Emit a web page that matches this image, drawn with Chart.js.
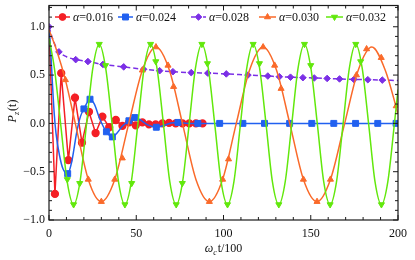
<!DOCTYPE html>
<html><head><meta charset="utf-8">
<script src="https://cdn.jsdelivr.net/npm/chart.js@4.4.1/dist/chart.umd.min.js"></script>
<style>html,body{margin:0;padding:0;background:#fff}#wrap{width:415px;height:260px}</style>
</head><body><div id="wrap"><canvas id="c" width="415" height="260"></canvas></div>
<script>
// ---- data ----
const alphaLabels = ['0.016', '0.024', '0.028', '0.030', '0.032'];
const xTickVals = [0, 50, 100, 150, 200];
const yTickVals = [-1.0, -0.5, 0.0, 0.5, 1.0];

// alpha = 0.016 (red, joined points)
const redT = [0, 3.4, 7.0, 11.1, 14.9, 18.9, 22.9, 26.7, 30.6, 34.5, 38.3, 42.1, 45.9, 49.7, 53.5, 57.3, 61.1, 65.0, 68.8, 72.6, 76.5, 80.4, 84.2, 88.0];
const redP = [1.0, -0.73, 0.52, -0.38, 0.265, -0.2, 0.12, -0.1, 0.07, -0.04, 0.035, -0.025, 0.01, -0.02, 0.01, -0.01, -0.01, 0.0, 0.005, 0.0, 0.0, 0.0, 0.0, 0.0];

// alpha = 0.024 (blue)
const blueT = [0, 1, 2, 3, 4, 6, 8, 10.7, 13, 16, 18, 20, 23.5, 26, 29, 32.9, 36.3, 39, 42, 45.8, 49.1, 52, 56, 61.5, 66, 70, 73.9, 80, 85.3, 97.8, 200];
const blueP = [1.0, 0.75, 0.4, 0.1, -0.1, -0.33, -0.47, -0.52, -0.4, -0.08, 0.07, 0.15, 0.25, 0.2, 0.05, -0.087, -0.14, -0.1, -0.03, 0.027, 0.06, 0.04, -0.01, -0.04, -0.02, 0.005, 0.01, 0.0, 0.0, 0.0, 0.0];
const blueMarkT = [10.7, 20, 23.5, 32.9, 36.3, 45.8, 49.1, 61.5, 73.9, 85.3, 97.8, 111.1, 123.5, 137.9, 150.6, 163.2, 175.7, 188.4, 198.9];
const blueMarkP = [-0.52, 0.15, 0.25, -0.087, -0.14, 0.027, 0.06, -0.04, 0.01, 0, 0, 0, 0, 0, 0, 0, 0, 0, 0];

// alpha = 0.028 (purple, dashed)
const purpleT = [0, 2, 4, 5.7, 10, 15.3, 22.3, 30.9, 42.8, 54.2, 63.4, 71, 81.5, 91, 101.6, 114, 125.4, 132, 138.4, 145.5, 152, 159.4, 166.5, 174.7, 182.7, 191, 200];
const purpleP = [1.0, 0.88, 0.79, 0.74, 0.69, 0.66, 0.64, 0.61, 0.585, 0.56, 0.545, 0.535, 0.525, 0.52, 0.512, 0.5, 0.49, 0.483, 0.478, 0.473, 0.47, 0.465, 0.46, 0.455, 0.452, 0.448, 0.443];
const purpleMarkT = [0, 5.7, 15.3, 22.3, 30.9, 42.8, 54.2, 63.4, 71, 81.5, 91, 101.6, 114, 125.4, 132, 138.4, 145.5, 152, 159.4, 166.5, 174.7, 182.7, 191];
const purpleMarkP = [1.0, 0.74, 0.66, 0.64, 0.61, 0.585, 0.56, 0.545, 0.535, 0.525, 0.52, 0.512, 0.5, 0.49, 0.483, 0.478, 0.473, 0.47, 0.465, 0.46, 0.455, 0.452, 0.448];

// alpha = 0.030 (orange)
const orangeT = [0, 4.5, 9.4, 15.2, 22.5, 30, 37.7, 45.6, 53.5, 61.3, 69.0, 76.6, 84.2, 91.9, 99.5, 107.2, 114.9, 122.7, 130.4, 138.1, 145.8, 153.6, 161.3, 169.3, 177.2, 185.0, 192.7, 200];
const orangeP = [0.97, 0.75, 0.45, -0.01, -0.58, -0.81, -0.58, -0.01, 0.55, 0.79, 0.55, -0.01, -0.58, -0.81, -0.58, -0.01, 0.55, 0.79, 0.55, -0.01, -0.58, -0.81, -0.58, -0.01, 0.55, 0.79, 0.55, 0.1];
const orangeMarkT = [9.4, 22.5, 30, 37.7, 42, 53.5, 61.3, 68.2, 71.4, 91.9, 99.5, 102.9, 122.7, 129.3, 133, 145.8, 153.6, 161.3, 176.2, 182, 190.4, 199];
const orangeMarkP = [0.45, -0.58, -0.81, -0.58, -0.36, 0.55, 0.79, 0.6, 0.38, -0.81, -0.58, -0.37, 0.79, 0.6, 0.36, -0.58, -0.81, -0.58, 0.5, 0.77, 0.68, 0.18];

// alpha = 0.032 (green)
const greenT = [0, 3.1, 6.7, 10.4, 14.1, 17.8, 21.5, 25.1, 28.8, 32.5, 36.2, 39.8, 43.5, 47.2, 50.9, 54.5, 58.2, 61.9, 65.6, 69.2, 72.9, 76.6, 80.3, 83.9, 87.6, 91.3, 95.0, 98.6, 102.3, 106.0, 109.7, 113.3, 117.0, 120.7, 124.4, 128.0, 131.7, 135.4, 139.1, 142.7, 146.4, 150.1, 153.8, 157.4, 161.1, 164.8, 168.5, 172.1, 175.8, 179.5, 183.2, 186.8, 190.5, 194.2, 197.9, 200];
const greenP = [0.88, 0.57, -0.01, -0.6, -0.84, -0.6, -0.01, 0.57, 0.82, 0.57, -0.01, -0.6, -0.84, -0.6, -0.01, 0.57, 0.82, 0.57, -0.01, -0.6, -0.84, -0.6, -0.01, 0.57, 0.82, 0.57, -0.01, -0.6, -0.84, -0.6, -0.01, 0.57, 0.82, 0.57, -0.01, -0.6, -0.84, -0.6, -0.01, 0.57, 0.82, 0.57, -0.01, -0.6, -0.84, -0.6, -0.01, 0.57, 0.82, 0.57, -0.01, -0.6, -0.84, -0.6, -0.01, 0.35];
const greenMarkT = [10.5, 14.1, 17.6, 28.8, 32.4, 43.5, 47.4, 58.2, 61.2, 72.9, 76.4, 87.6, 90.8, 102.3, 117.0, 120.6, 131.7, 146.4, 150.0, 161.1, 175.8, 178.6, 190.5];
const greenMarkP = [-0.58, -0.84, -0.62, 0.82, 0.6, -0.84, -0.62, 0.82, 0.64, -0.84, -0.62, 0.82, 0.62, -0.84, 0.82, 0.62, -0.84, 0.82, 0.6, -0.84, 0.82, 0.64, -0.84];

// ---- styling ----
const COL = { red: '#f41f25', blue: '#2160f0', purple: '#7b2fe6', orange: '#fa6a2a', green: '#62e80c' };
const FONT = '"Liberation Serif", "DejaVu Serif", serif';

function pts(t, p) { return t.map((x, i) => ({ x: x, y: p[i] })); }

const lineBase = { borderWidth: 1.5, pointRadius: 0, fill: false };
const markBase = { showLine: false, borderWidth: 1 };

const datasets = [
  Object.assign({}, lineBase, { label: 'r', data: pts(redT, redP), borderColor: COL.red, backgroundColor: COL.red,
    tension: 0, pointStyle: 'circle', pointRadius: c => c.dataIndex === 0 ? 0 : 3.4, pointBackgroundColor: COL.red, pointBorderColor: COL.red, order: 9 }),
  Object.assign({}, lineBase, { label: 'b', data: pts(blueT, blueP), borderColor: COL.blue, cubicInterpolationMode: 'monotone', order: 8 }),
  Object.assign({}, markBase, { label: 'bm', data: pts(blueMarkT, blueMarkP), pointStyle: 'rect', pointRadius: 4.2, backgroundColor: COL.blue, borderColor: COL.blue, order: 7.5 }),
  Object.assign({}, lineBase, { label: 'p', data: pts(purpleT, purpleP), borderColor: COL.purple, borderDash: [5, 3], cubicInterpolationMode: 'monotone', order: 7 }),
  Object.assign({}, markBase, { label: 'pm', data: pts(purpleMarkT, purpleMarkP), pointStyle: 'rectRot', pointRadius: 3.3, backgroundColor: COL.purple, borderColor: COL.purple, order: 6.5 }),
  Object.assign({}, lineBase, { label: 'o', data: pts(orangeT, orangeP), borderColor: COL.orange, cubicInterpolationMode: 'monotone', order: 6 }),
  Object.assign({}, markBase, { label: 'om', data: pts(orangeMarkT, orangeMarkP), pointStyle: 'triangle', pointRadius: 3.5, backgroundColor: COL.orange, borderColor: COL.orange, order: 5.5 }),
  Object.assign({}, lineBase, { label: 'g', data: pts(greenT, greenP), borderColor: COL.green, cubicInterpolationMode: 'monotone', order: 5 }),
  Object.assign({}, markBase, { label: 'gm', data: pts(greenMarkT, greenMarkP), pointStyle: 'triangle', rotation: 180, pointRotation: 180, pointRadius: 3.5, backgroundColor: COL.green, borderColor: COL.green, order: 4.5 })
];

function drawMarker(ctx, style, x, y, r, color) {
  ctx.save();
  ctx.fillStyle = color; ctx.strokeStyle = color; ctx.lineWidth = 1; ctx.setLineDash([]);
  ctx.beginPath();
  if (style === 'circle') { ctx.arc(x, y, r, 0, Math.PI * 2); }
  else if (style === 'rect') { const s = r * Math.SQRT1_2; ctx.rect(x - s, y - s, 2 * s, 2 * s); }
  else if (style === 'rectRot') { ctx.moveTo(x, y - r); ctx.lineTo(x + r, y); ctx.lineTo(x, y + r); ctx.lineTo(x - r, y); ctx.closePath(); }
  else if (style === 'triUp' || style === 'triDown') {
    const d = style === 'triUp' ? 1 : -1;
    ctx.moveTo(x, y - d * r);
    ctx.lineTo(x + r * Math.sin(Math.PI / 3), y + d * r * 0.5);
    ctx.lineTo(x - r * Math.sin(Math.PI / 3), y + d * r * 0.5);
    ctx.closePath();
  }
  ctx.fill(); ctx.stroke();
  ctx.restore();
}

const legendItems = [
  { color: COL.red, style: 'circle', r: 3.4, x0: 55, x1: 70, tx: 73, dash: [] },
  { color: COL.blue, style: 'rect', r: 4.2, x0: 118, x1: 133, tx: 136, dash: [] },
  { color: COL.purple, style: 'rectRot', r: 3.3, x0: 191, x1: 206, tx: 209, dash: [4, 2] },
  { color: COL.orange, style: 'triUp', r: 3.5, x0: 259, x1: 276, tx: 279, dash: [] },
  { color: COL.green, style: 'triDown', r: 3.5, x0: 326, x1: 343, tx: 346, dash: [] }
];

const framePlugin = {
  id: 'framePlugin',
  beforeDatasetsDraw(chart) {
    const { ctx, chartArea: a, scales: { y } } = chart;
    const py = Math.round(y.getPixelForValue(0)) + 0.5;
    ctx.save();
    ctx.strokeStyle = '#a0a0a0'; ctx.lineWidth = 1;
    ctx.beginPath(); ctx.moveTo(a.left, py); ctx.lineTo(a.right, py); ctx.stroke();
    ctx.restore();
  },
  afterDatasetsDraw(chart) {
    const { ctx, chartArea: a, scales: { x, y } } = chart;
    ctx.save();
    // frame
    ctx.strokeStyle = '#1a1a1a'; ctx.lineWidth = 1.2; ctx.setLineDash([]);
    ctx.strokeRect(a.left, a.top, a.right - a.left, a.bottom - a.top);
    ctx.lineWidth = 1;
    ctx.beginPath();
    for (let v = 0; v <= 200; v += 10) {
      const px = x.getPixelForValue(v);
      const len = (v % 50 === 0) ? 5 : 3;
      ctx.moveTo(px, a.bottom); ctx.lineTo(px, a.bottom - len);
      ctx.moveTo(px, a.top); ctx.lineTo(px, a.top + len);
    }
    for (let k = -10; k <= 12; k++) {
      const v = k / 10;
      const py = y.getPixelForValue(v);
      const len = (k % 5 === 0) ? 5 : 3;
      ctx.moveTo(a.left, py); ctx.lineTo(a.left + len, py);
      ctx.moveTo(a.right, py); ctx.lineTo(a.right - len, py);
    }
    ctx.stroke();

    // legend
    const ly = 17;
    legendItems.forEach((it, i) => {
      ctx.save();
      ctx.strokeStyle = it.color; ctx.lineWidth = 1.5; ctx.setLineDash(it.dash);
      ctx.beginPath(); ctx.moveTo(it.x0, ly); ctx.lineTo(it.x1, ly); ctx.stroke();
      ctx.restore();
      drawMarker(ctx, it.style, (it.x0 + it.x1) / 2, ly, it.r, it.color);
      ctx.fillStyle = '#111';
      ctx.textBaseline = 'alphabetic'; ctx.textAlign = 'left';
      ctx.font = 'italic 12px ' + FONT;
      ctx.fillText('α', it.tx, ly + 4);
      const w = ctx.measureText('α').width;
      ctx.font = '12px ' + FONT;
      ctx.fillText('=' + alphaLabels[i], it.tx + w, ly + 4);
    });

    // y title: P_z(t)
    ctx.save();
    ctx.translate(16, 111);
    ctx.rotate(-Math.PI / 2);
    ctx.fillStyle = '#111';
    ctx.textBaseline = 'alphabetic';
    ctx.font = 'italic 12px ' + FONT; const wP = ctx.measureText('P').width;
    ctx.font = 'italic 8px ' + FONT; const wz = ctx.measureText('z').width;
    ctx.font = '12px ' + FONT; const wt = ctx.measureText('(t)').width;
    let sx = -(wP + wz + wt + 1) / 2;
    ctx.font = 'italic 12px ' + FONT; ctx.fillText('P', sx, 0); sx += wP;
    ctx.font = 'italic 8px ' + FONT; ctx.fillText('z', sx, 3); sx += wz + 1;
    ctx.font = '12px ' + FONT; ctx.fillText('(t)', sx, 0);
    ctx.restore();

    // x title: ω_c t/100
    ctx.save();
    ctx.fillStyle = '#111';
    ctx.textBaseline = 'alphabetic';
    ctx.font = 'italic 12px ' + FONT; const wO = ctx.measureText('ω').width;
    ctx.font = 'italic 8px ' + FONT; const wc = ctx.measureText('c').width;
    ctx.font = '12px ' + FONT; const wr = ctx.measureText('t/100').width;
    let bx = (a.left + a.right) / 2 - (wO + wc + wr + 1) / 2;
    const by = 252;
    ctx.font = 'italic 12px ' + FONT; ctx.fillText('ω', bx, by); bx += wO;
    ctx.font = 'italic 8px ' + FONT; ctx.fillText('c', bx, by + 3); bx += wc + 1;
    ctx.font = '12px ' + FONT; ctx.fillText('t/100', bx, by);
    ctx.restore();

    ctx.restore();
  }
};

function fmtY(v) {
  const s = Math.abs(v).toFixed(1);
  return v < -1e-9 ? '\u2212' + s : s;
}

function zeroPad(s) { s.paddingTop = 0; s.paddingBottom = 0; s.paddingLeft = 0; s.paddingRight = 0; }

new Chart(document.getElementById('c'), {
  type: 'line',
  data: { datasets: datasets },
  options: {
    responsive: false,
    animation: false,
    devicePixelRatio: 1,
    layout: { padding: { top: 5, right: 17, left: 0, bottom: 0 } },
    plugins: { legend: { display: false }, tooltip: { enabled: false } },
    scales: {
      x: {
        type: 'linear', min: 0, max: 200,
        grid: { display: false, drawTicks: false },
        border: { display: false },
        afterBuildTicks: s => { s.ticks = xTickVals.map(v => ({ value: v })); },
        afterFit: s => { s.height = 40; zeroPad(s); },
        ticks: { padding: 7, color: '#111', font: { family: FONT, size: 12 }, maxRotation: 0, autoSkip: false, callback: v => String(v) }
      },
      y: {
        type: 'linear', min: -1, max: 1.22,
        grid: { display: false, drawTicks: false },
        border: { display: false },
        afterBuildTicks: s => { s.ticks = yTickVals.map(v => ({ value: v })); },
        afterFit: s => { s.width = 49; zeroPad(s); },
        ticks: { padding: 4, color: '#111', font: { family: FONT, size: 12 }, autoSkip: false, callback: v => fmtY(v) }
      }
    }
  },
  plugins: [framePlugin]
});
</script>
</body></html>
